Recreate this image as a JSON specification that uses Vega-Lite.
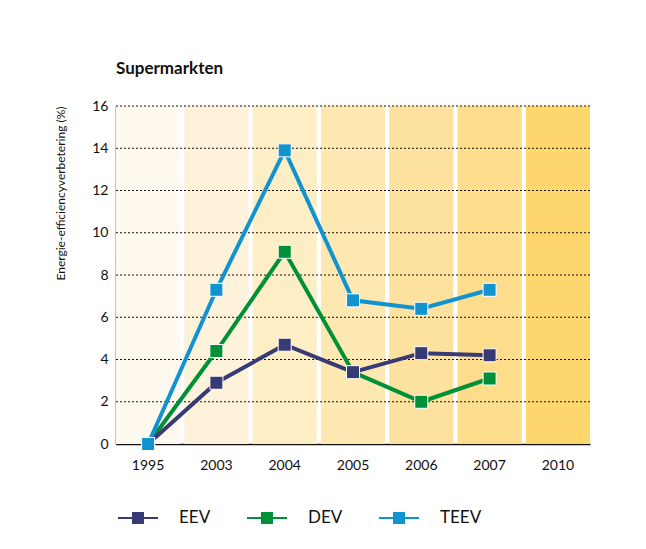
{
  "$schema": "https://vega.github.io/schema/vega-lite/v6.json",
  "width": 474,
  "height": 338,
  "autosize": "none",
  "padding": {"left": 116, "top": 106, "right": 56, "bottom": 105},
  "background": "white",
  "title": {"text": "Supermarkten", "anchor": "start", "frame": "group", "fontSize": 17, "font": "Lato", "fontWeight": "bold", "color": "#111", "offset": 21},
  "config": {"view": {"stroke": null}, "font": "Lato"},
  "datasets": {
    "bands": [
      {"year": "1995"}, {"year": "2003"}, {"year": "2004"}, {"year": "2005"}, {"year": "2006"}, {"year": "2007"}, {"year": "2010"}
    ],
    "grid": [{"v": 2}, {"v": 4}, {"v": 6}, {"v": 8}, {"v": 10}, {"v": 12}, {"v": 14}, {"v": 16}],
    "series": [
      {"year": "1995", "serie": "DEV", "value": 0},
      {"year": "2003", "serie": "DEV", "value": 4.4},
      {"year": "2004", "serie": "DEV", "value": 9.1},
      {"year": "2005", "serie": "DEV", "value": 3.4},
      {"year": "2006", "serie": "DEV", "value": 2.0},
      {"year": "2007", "serie": "DEV", "value": 3.1},
      {"year": "1995", "serie": "EEV", "value": 0},
      {"year": "2003", "serie": "EEV", "value": 2.9},
      {"year": "2004", "serie": "EEV", "value": 4.7},
      {"year": "2005", "serie": "EEV", "value": 3.4},
      {"year": "2006", "serie": "EEV", "value": 4.3},
      {"year": "2007", "serie": "EEV", "value": 4.2},
      {"year": "1995", "serie": "TEEV", "value": 0},
      {"year": "2003", "serie": "TEEV", "value": 7.3},
      {"year": "2004", "serie": "TEEV", "value": 13.9},
      {"year": "2005", "serie": "TEEV", "value": 6.8},
      {"year": "2006", "serie": "TEEV", "value": 6.4},
      {"year": "2007", "serie": "TEEV", "value": 7.3}
    ]
  },
  "layer": [
    {
      "data": {"name": "bands"},
      "mark": {"type": "bar"},
      "encoding": {
        "x": {
          "field": "year", "type": "ordinal",
          "scale": {"domain": ["1995", "2003", "2004", "2005", "2006", "2007", "2010"], "paddingInner": 0.06, "paddingOuter": 0},
          "axis": {"title": null, "labelAngle": 0, "ticks": false, "labelPadding": 14, "labelFontSize": 14, "labelColor": "#111", "domainColor": "#111", "domainWidth": 1.5}
        },
        "fill": {
          "field": "year", "type": "nominal",
          "scale": {"domain": ["1995", "2003", "2004", "2005", "2006", "2007", "2010"], "range": ["#FFF9F0", "#FEF3DA", "#FEEEC6", "#FEE8B2", "#FDE29F", "#FDDC8C", "#FDD66E"]},
          "legend": null
        }
      }
    },
    {
      "data": {"name": "grid"},
      "mark": {"type": "rule", "stroke": "#111", "strokeWidth": 1, "strokeDash": [2, 2]},
      "encoding": {
        "y": {"field": "v", "type": "quantitative", "scale": {"domain": [0, 16], "nice": false}}
      }
    },
    {
      "data": {"name": "series"},
      "mark": {"type": "line", "strokeWidth": 4, "point": {"shape": "square", "size": 170, "filled": true, "stroke": "white", "strokeWidth": 1, "opacity": 1}},
      "encoding": {
        "x": {"field": "year", "type": "ordinal"},
        "y": {
          "field": "value", "type": "quantitative",
          "scale": {"domain": [0, 16], "nice": false},
          "axis": {"title": "Energie-efficiencyverbetering (%)", "titleFontSize": 12, "titleFontWeight": "normal", "titleColor": "#111", "titleAnchor": "end", "titlePadding": 24, "values": [0, 2, 4, 6, 8, 10, 12, 14, 16], "ticks": false, "grid": false, "labelPadding": 8, "labelFontSize": 14, "labelColor": "#111", "domainColor": "#111", "domainWidth": 1.5}
        },
        "color": {
          "field": "serie", "type": "nominal",
          "scale": {"domain": ["EEV", "DEV", "TEEV"], "range": ["#383B73", "#009037", "#1193D0"]},
          "legend": {
            "title": null, "orient": "none", "direction": "horizontal", "legendX": 1, "legendY": 391, "padding": 0,
            "symbolType": "M-1,0H1M-0.25,-0.25H0.25V0.25H-0.25Z", "symbolSize": 1600, "symbolStrokeWidth": 2,
            "labelFontSize": 17, "labelOffset": 20, "columnPadding": 32, "labelColor": "#111",
            "encode": {"symbols": {"update": {"fill": {"scale": "color", "field": "value"}, "stroke": {"scale": "color", "field": "value"}, "opacity": {"value": 1}}}}
          }
        }
      }
    }
  ],
  "resolve": {"scale": {"color": "independent"}}
}
